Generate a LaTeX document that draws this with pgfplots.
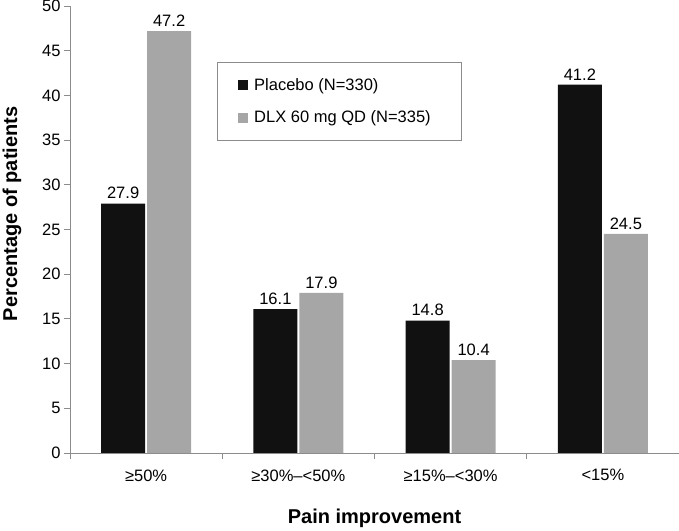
\documentclass[border=0pt]{standalone}
\usepackage{fontspec}
\setmainfont{Liberation Sans}
\usepackage{pgfplots}
\pgfplotsset{compat=1.18}
\definecolor{barblack}{HTML}{111111}
\definecolor{bargray}{HTML}{A6A6A6}
\definecolor{axgray}{HTML}{8C8C8C}
\begin{document}
\begin{tikzpicture}
\begin{axis}[
  name=ax,
  scale only axis, width=609pt, height=447pt,
  xmin=-0.5, xmax=3.5, ymin=0, ymax=50,
  clip=false,
  axis x line*=bottom, axis y line*=left,
  axis line style={draw=axgray, line width=0.9pt},
  tick align=outside, major tick length=6pt,
  tick style={draw=axgray, line width=0.9pt},
  /pgf/number format/assume math mode=true,
  ticklabel style={font=\fontsize{16.5}{19}\selectfont},
  ytick={0,5,...,50},
  xtick={-0.5,0.5,1.5,2.5,3.5}, xticklabels={},
  extra x ticks={0,1,2,3},
  extra x tick labels={≥50\%, ≥30\%–<50\%, ≥15\%–<30\%, <15\%},
  extra x tick style={major tick length=0pt, xticklabel style={yshift=-13pt}},
  ybar, bar width=44pt,
  nodes near coords,
  every node near coord/.append style={font=\fontsize{16.5}{19}\selectfont, text=black, yshift=1pt, /pgf/number format/fixed, /pgf/number format/precision=1, /pgf/number format/fixed zerofill},
  xlabel={Pain improvement},
  ylabel={Percentage of patients},
  xlabel style={font=\bfseries\fontsize{20}{24}\selectfont, at={(axis description cs:0.5,0)}, anchor=base, yshift=-71pt},
  ylabel style={font=\bfseries\fontsize{20}{24}\selectfont, at={(axis description cs:-0.0870,0.535)}, anchor=base},
  legend style={at={(0.241,0.875)}, anchor=north west, draw=axgray, line width=0.9pt, font=\fontsize{16.5}{19}\selectfont, inner xsep=21pt, inner ysep=14pt, row sep=15pt},
  legend cell align=left,
  legend image code/.code={\fill[#1, draw=none] (0pt,-5pt) rectangle (10pt,5pt); \path (14pt,0pt);},
]
\addplot[fill=barblack, draw=none] coordinates {(0,27.9) (1,16.1) (2,14.8) (3,41.2)};
\addplot[fill=bargray, draw=none] coordinates {(0,47.2) (1,17.9) (2,10.4) (3,24.5)};
\legend{Placebo (N=330), DLX 60 mg QD (N=335)\rule{8pt}{0pt}}
\end{axis}
\pgfresetboundingbox
\path[use as bounding box] ([shift={(-70pt,-78pt)}]ax.south west) rectangle ([shift={(0pt,6pt)}]ax.north east);
\end{tikzpicture}
\end{document}
